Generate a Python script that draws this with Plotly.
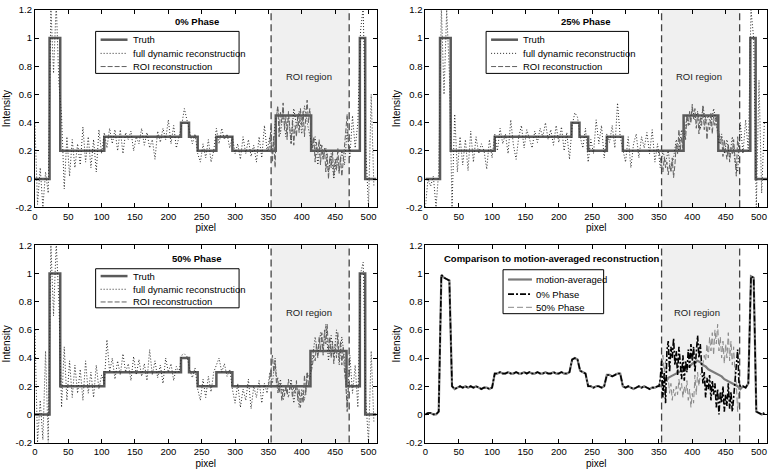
import plotly.graph_objects as go

W, H = 769, 473
FONT = "Liberation Sans, Arial, sans-serif"

# ---------------- data ----------------
pixel_grid = list(range(0, 512, 4))          # 128 samples for noisy curves
roi_pixels = list(range(350, 474, 2))        # 62 samples inside ROI

truth_x_0 = [0, 22, 38, 104, 219, 231, 244, 272, 296, 361, 414, 487, 495, 512]
truth_x_25 = [0, 22, 38, 104, 219, 231, 244, 272, 296, 387, 439, 487, 495, 512]
truth_x_50 = [0, 22, 38, 104, 219, 231, 244, 272, 296, 413, 467, 487, 495, 512]
truth_y = [0, 1.0, 0.2, 0.3, 0.4, 0.3, 0.2, 0.3, 0.2, 0.45, 0.2, 1.0, 0.0, 0.0]

full_dyn_0 = [
    0.40, -0.18, 0.08, -0.20, 0.05, -0.10, 1.22, 0.75,
    1.25, 0.68, 0.45, -0.07, 0.30, 0.02, 0.28, 0.08,
    0.25, 0.10, 0.37, 0.12, 0.30, 0.08, 0.28, 0.05,
    0.35, 0.18, 0.33, 0.22, 0.36, 0.25, 0.35, 0.20,
    0.35, 0.18, 0.33, 0.28, 0.34, 0.20, 0.30, 0.25,
    0.36, 0.24, 0.33, 0.22, 0.28, 0.14, 0.34, 0.26,
    0.36, 0.28, 0.42, 0.25, 0.38, 0.22, 0.30, 0.38,
    0.50, 0.42, 0.33, 0.25, 0.32, 0.18, 0.12, 0.25,
    0.15, 0.28, 0.12, 0.20, 0.36, 0.25, 0.36, 0.28,
    0.32, 0.22, 0.30, 0.18, 0.25, 0.14, 0.30, 0.18,
    0.28, 0.16, 0.24, 0.12, 0.30, 0.15, 0.38, 0.20,
    0.30, 0.18, 0.40, 0.50, 0.32, 0.48, 0.30, 0.45,
    0.25, 0.50, 0.38, 0.48, 0.32, 0.52, 0.40, 0.30,
    0.22, 0.30, 0.10, 0.25, 0.15, 0.22, 0.05, 0.18,
    0.00, 0.15, 0.05, 0.20, 0.10, 0.35, 0.15, 0.45,
    0.22, 0.40, 1.05, 1.22, 0.20, -0.20, 0.60, -0.05,
]
full_dyn_25 = [
    -0.20, 0.00, -0.05, 0.02, -0.20, 0.05, 1.22, 0.60,
    1.20, 0.75, -0.20, 0.46, 0.05, 0.30, 0.10, 0.28,
    0.06, 0.34, 0.12, 0.30, 0.18, 0.25, 0.20, 0.07,
    0.28, 0.15, 0.32, 0.20, 0.36, 0.25, 0.32, 0.18,
    0.42, 0.24, 0.14, 0.30, 0.38, 0.22, 0.35, 0.28,
    0.22, 0.34, 0.26, 0.36, 0.30, 0.40, 0.28, 0.35,
    0.24, 0.38, 0.26, 0.37, 0.20, 0.33, 0.14, 0.38,
    0.47, 0.44, 0.30, 0.22, 0.36, 0.12, 0.28, 0.18,
    0.42, 0.25, 0.38, 0.15, 0.32, 0.26, 0.38, 0.22,
    0.54, 0.30, 0.20, 0.12, 0.30, 0.08, 0.25, 0.32,
    0.15, 0.30, 0.22, 0.33, 0.18, 0.35, 0.12, 0.25,
    0.08, 0.20, 0.12, 0.20, 0.05, 0.15, 0.28, 0.20,
    0.35, 0.30, 0.45, 0.38, 0.50, 0.42, 0.48, 0.35,
    0.52, 0.40, 0.45, 0.38, 0.50, 0.40, 0.25, 0.32,
    0.18, 0.28, 0.15, 0.30, 0.12, 0.05, 0.40, 0.18,
    0.42, 0.20, 1.20, 1.00, -0.20, 0.70, -0.10, 0.40,
]
full_dyn_50 = [
    0.60, -0.20, 0.10, -0.18, 0.45, -0.20, 1.20, 0.70,
    1.22, 0.80, 0.05, 0.48, 0.10, 0.38, 0.12, 0.35,
    0.15, 0.32, 0.10, 0.38, 0.15, 0.30, 0.12, 0.35,
    0.18, 0.28, 0.22, 0.53, 0.30, 0.40, 0.25, 0.38,
    0.28, 0.43, 0.30, 0.36, 0.24, 0.41, 0.28, 0.39,
    0.27, 0.36, 0.24, 0.46, 0.28, 0.38, 0.26, 0.35,
    0.22, 0.40, 0.30, 0.36, 0.24, 0.34, 0.30, 0.42,
    0.43, 0.41, 0.32, 0.26, 0.33, 0.18, 0.10, 0.25,
    0.12, 0.27, 0.16, 0.30, 0.35, 0.40, 0.30, 0.36,
    0.27, 0.32, 0.18, 0.08, 0.22, 0.05, 0.18, 0.10,
    0.25, 0.04, 0.20, 0.12, 0.24, 0.08, 0.22, 0.15,
    0.30, 0.22, 0.40, 0.15, 0.25, 0.10, 0.20, 0.12,
    0.25, 0.08, 0.22, 0.05, 0.18, 0.10, 0.30, 0.25,
    0.40, 0.55, 0.42, 0.58, 0.45, 0.64, 0.38, 0.56,
    0.40, 0.60, 0.35, 0.55, 0.40, 0.05, 0.42, 0.15,
    0.35, 0.05, 1.00, 1.08, 0.10, -0.20, 0.45, -0.05,
]

roi_rec_0 = [
    0.20, 0.25, 0.38, 0.12, 0.30, 0.08, 0.45, 0.52, 0.30, 0.48,
    0.40, 0.54, 0.35, 0.45, 0.28, 0.48, 0.36, 0.25, 0.42, 0.24,
    0.38, 0.30, 0.46, 0.33, 0.50, 0.38, 0.48, 0.30, 0.44, 0.56,
    0.40, 0.50, 0.35, 0.22, 0.30, 0.12, 0.26, 0.18, 0.28, 0.10,
    0.24, 0.14, 0.22, 0.05, 0.18, 0.00, 0.16, 0.08, 0.20, 0.02,
    0.14, 0.06, 0.22, 0.04, 0.16, 0.02, 0.12, 0.25, 0.38, 0.46,
    0.22, 0.20,
]
roi_rec_25 = [
    0.20, 0.15, 0.10, 0.05, 0.15, 0.08, 0.12, 0.03, 0.10, 0.06,
    0.15, 0.01, 0.10, 0.25, 0.18, 0.35, 0.20, 0.30, 0.22, 0.40,
    0.28, 0.45, 0.38, 0.48, 0.40, 0.53, 0.42, 0.50, 0.36, 0.47,
    0.32, 0.44, 0.38, 0.52, 0.35, 0.45, 0.28, 0.40, 0.35, 0.47,
    0.32, 0.44, 0.38, 0.45, 0.30, 0.34, 0.25, 0.30, 0.16, 0.28,
    0.20, 0.14, 0.25, 0.12, 0.22, 0.18, 0.28, 0.10, 0.02, 0.30,
    0.20, 0.21,
]
roi_rec_50 = [
    0.20, 0.25, 0.32, 0.42, 0.30, 0.38, 0.22, 0.26, 0.15, 0.22,
    0.10, 0.18, 0.13, 0.20, 0.14, 0.25, 0.17, 0.22, 0.12, 0.20,
    0.15, 0.24, 0.10, 0.18, 0.05, 0.15, 0.08, 0.28, 0.14, 0.30,
    0.20, 0.28, 0.30, 0.35, 0.42, 0.38, 0.50, 0.40, 0.55, 0.45,
    0.58, 0.42, 0.60, 0.50, 0.64, 0.45, 0.55, 0.40, 0.52, 0.36,
    0.50, 0.40, 0.58, 0.38, 0.52, 0.35, 0.48, 0.30, 0.22, 0.02,
    0.20, 0.21,
]

motion_avg = [
    0.00, 0.01, 0.01, 0.00, 0.00, 0.02, 0.99, 0.97,
    0.96, 0.95, 0.20, 0.18, 0.19, 0.20, 0.19, 0.20,
    0.19, 0.20, 0.19, 0.20, 0.19, 0.18, 0.19, 0.19,
    0.18, 0.19, 0.29, 0.29, 0.30, 0.29, 0.29, 0.30,
    0.29, 0.29, 0.30, 0.29, 0.29, 0.30, 0.29, 0.30,
    0.29, 0.29, 0.30, 0.29, 0.29, 0.30, 0.29, 0.29,
    0.30, 0.29, 0.29, 0.30, 0.29, 0.29, 0.30, 0.39,
    0.40, 0.39, 0.31, 0.30, 0.29, 0.20, 0.20, 0.19,
    0.20, 0.20, 0.19, 0.20, 0.28, 0.28, 0.27, 0.28,
    0.29, 0.29, 0.20, 0.19, 0.20, 0.19, 0.18, 0.19,
    0.20, 0.19, 0.20, 0.19, 0.18, 0.19, 0.19, 0.20,
    0.20, 0.22, 0.24, 0.26, 0.27, 0.28, 0.29, 0.30,
    0.31, 0.33, 0.34, 0.34, 0.36, 0.37, 0.38, 0.37,
    0.35, 0.34, 0.32, 0.31, 0.30, 0.29, 0.28, 0.27,
    0.25, 0.24, 0.23, 0.22, 0.21, 0.20, 0.18, 0.20,
    0.19, 0.22, 0.98, 0.97, 0.02, 0.01, 0.00, 0.01,
]

roi_bounds = [354, 471]
x_ticks = list(range(0, 501, 50))
y_ticks = [-0.2, 0, 0.2, 0.4, 0.6, 0.8, 1.0, 1.2]
y_ticktext = ["-0.2", "0", "0.2", "0.4", "0.6", "0.8", "1", "1.2"]

panel_titles = ["0% Phase", "25% Phase", "50% Phase",
                "Comparison to motion-averaged reconstruction"]
legend_labels_phase = ["Truth", "full dynamic reconstruction", "ROI reconstruction"]
legend_labels_cmp = ["motion-averaged", "0% Phase", "50% Phase"]

# ---------------- layout helpers ----------------
def px(xp):
    return xp / W

def py(yp):
    return 1 - yp / H

# panel pixel boxes: (left, right, top, bottom)
boxes = [(32, 375, 4, 206), (424, 767, 4, 206), (32, 375, 245, 447), (424, 767, 245, 447)]

TRUTH_STYLE = dict(color="#5a5a5a", width=2.5)
FULL_STYLE = dict(color="#2a2a2a", width=1, dash="1px,2px")
ROI_STYLE = dict(color="#606060", width=1, dash="5px,2px")
MA_STYLE = dict(color="#7a7a7a", width=2.2)
P0_STYLE = dict(color="#000000", width=1.6, dash="6px,2px,2px,2px")
P50_STYLE = dict(color="#8a8a8a", width=1, dash="6px,3px")

fig = go.Figure()

def add_line(x, y, idx, style, shape="linear"):
    sfx = "" if idx == 0 else str(idx + 1)
    fig.add_trace(go.Scatter(x=x, y=y, mode="lines", line=dict(**style, shape=shape),
                             xaxis="x" + sfx, yaxis="y" + sfx, showlegend=False,
                             hoverinfo="skip"))

phase_sets = [(truth_x_0, full_dyn_0, roi_rec_0),
              (truth_x_25, full_dyn_25, roi_rec_25),
              (truth_x_50, full_dyn_50, roi_rec_50)]

for i, (tx, fd, rr) in enumerate(phase_sets):
    add_line(tx, truth_y, i, TRUTH_STYLE, shape="hv")
    add_line(pixel_grid, fd, i, FULL_STYLE)
    add_line(roi_pixels, rr, i, ROI_STYLE)

# panel 4: the phase reconstructions coincide with the motion-averaged curve outside the ROI
left_x = [p for p in pixel_grid if p < roi_pixels[0]]
left_y = motion_avg[:len(left_x)]
right_x = [p for p in pixel_grid if p > roi_pixels[-1]]
right_y = motion_avg[len(pixel_grid) - len(right_x):]

add_line(pixel_grid, motion_avg, 3, MA_STYLE)
add_line(left_x + roi_pixels + right_x, left_y + roi_rec_50 + right_y, 3, P50_STYLE)
add_line(left_x + roi_pixels + right_x, left_y + roi_rec_0 + right_y, 3, P0_STYLE)

axis_base = dict(showline=True, linecolor="black", linewidth=1, mirror="ticks",
                 ticks="inside", ticklen=4, tickcolor="black", tickwidth=1,
                 showgrid=False, zeroline=False,
                 tickfont=dict(family=FONT, size=9.5, color="black"))

layout = dict(width=W, height=H, autosize=False,
              margin=dict(l=0, r=0, t=0, b=0),
              paper_bgcolor="white", plot_bgcolor="white",
              font=dict(family=FONT, color="black"), showlegend=False)

shapes = []
annotations = []
for i, (l, r, t, b) in enumerate(boxes):
    sfx = "" if i == 0 else str(i + 1)
    layout["xaxis" + sfx] = dict(axis_base, domain=[px(l), px(r)], range=[0, 512],
                                 tickvals=x_ticks, anchor="y" + sfx,
                                 title=dict(text="pixel", font=dict(size=10), standoff=3))
    layout["yaxis" + sfx] = dict(axis_base, domain=[py(b), py(t)], range=[-0.2, 1.2],
                                 tickvals=y_ticks, ticktext=y_ticktext, anchor="x" + sfx,
                                 title=dict(text="Intensity", font=dict(size=10), standoff=3))
    xr, yr = "x" + sfx, "y" + sfx
    shapes.append(dict(type="rect", xref=xr, yref=yr + " domain", x0=roi_bounds[0], x1=roi_bounds[1],
                       y0=0, y1=1, fillcolor="#f0f0f0", line=dict(width=0), layer="below"))
    for xb in roi_bounds:
        shapes.append(dict(type="line", xref=xr, yref=yr + " domain", x0=xb, x1=xb, y0=0, y1=1,
                           line=dict(color="#444444", width=1.3, dash="7px,4px"), layer="below"))

# titles and ROI labels (pixel positions)
title_pos = [(195, 16), (585, 16), (195, 258), (551, 259)]
roi_label_pos = [(307, 72), (699, 72), (307, 314), (697, 314)]
for i in range(4):
    annotations.append(dict(text="<b>%s</b>" % panel_titles[i], x=px(title_pos[i][0]),
                            y=py(title_pos[i][1]), xref="paper", yref="paper",
                            showarrow=False, xanchor="center", yanchor="middle",
                            font=dict(size=9.5, family=FONT, color="black")))
    annotations.append(dict(text="ROI region", x=px(roi_label_pos[i][0]), y=py(roi_label_pos[i][1]),
                            xref="paper", yref="paper", showarrow=False,
                            xanchor="center", yanchor="middle",
                            font=dict(size=9.5, family=FONT, color="#222222")))

# legends: box (l, t, r, b), rows y, sample x0, x1, text x
legends = [
    ((93, 26, 237, 69), [34.5, 48.5, 62], 98, 125, 128, legend_labels_phase, [TRUTH_STYLE, FULL_STYLE, ROI_STYLE]),
    ((485, 26, 628, 69), [34.5, 48.5, 62], 490, 517, 520, legend_labels_phase, [TRUTH_STYLE, FULL_STYLE, ROI_STYLE]),
    ((93, 269, 237, 309), [276.5, 290, 303], 98, 125, 128, legend_labels_phase, [TRUTH_STYLE, FULL_STYLE, ROI_STYLE]),
    ((502, 270, 603, 315), [280, 295, 308.5], 507, 531, 533, legend_labels_cmp, [MA_STYLE, P0_STYLE, P50_STYLE]),
]
for (bl, bt, br, bb), rows, sx0, sx1, tx, labels, styles in legends:
    shapes.append(dict(type="rect", xref="paper", yref="paper", x0=px(bl), x1=px(br),
                       y0=py(bb), y1=py(bt), fillcolor="white",
                       line=dict(color="black", width=1), layer="above"))
    for ry, lab, st in zip(rows, labels, styles):
        shapes.append(dict(type="line", xref="paper", yref="paper", x0=px(sx0), x1=px(sx1),
                           y0=py(ry), y1=py(ry), line=dict(st), layer="above"))
        annotations.append(dict(text=lab, x=px(tx), y=py(ry), xref="paper", yref="paper",
                                showarrow=False, xanchor="left", yanchor="middle",
                                font=dict(size=9.5, family=FONT, color="black")))

layout["shapes"] = shapes
layout["annotations"] = annotations
fig.update_layout(**layout)
fig.write_html("out.html", config={"displayModeBar": False, "staticPlot": True},
               post_script="document.body.style.margin='0px';document.body.style.overflow='hidden';")
